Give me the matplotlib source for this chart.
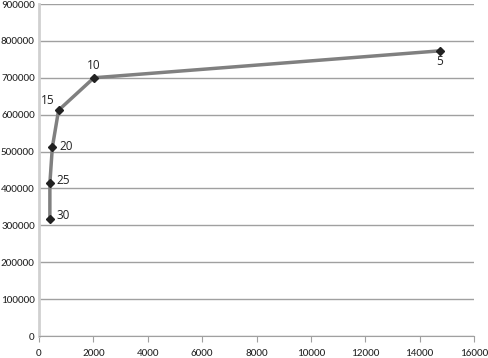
import matplotlib
matplotlib.use("Agg")
import matplotlib.pyplot as plt

plt.rcParams["font.family"] = ["Carlito", "DejaVu Sans"]

labels = ["5", "10", "15", "20", "25", "30"]
x_vals = [14740, 2020, 720, 490, 400, 400]
y_vals = [773000, 700000, 612000, 511000, 414000, 318000]

fig = plt.figure(figsize=(4.88, 3.58), dpi=100)
ax = fig.add_axes([39/488, 1-336/358, (474-39)/488, (336-4)/358])

ax.plot(x_vals, y_vals, color="#808080", lw=2.5, marker="D", ms=4.5,
        mfc="#222222", mec="#222222", zorder=3)

offsets = {"5": (0, -7.5, "center"), "10": (0, 8.5, "center"), "15": (-8, 7, "center"),
           "20": (5, 1, "left"), "25": (5, 2, "left"), "30": (5, 2, "left")}
for lab, x, y in zip(labels, x_vals, y_vals):
    dx, dy, ha = offsets[lab]
    ax.annotate(lab, (x, y), xytext=(dx, dy), textcoords="offset points",
                ha=ha, va="center", fontsize=8.5, color="#222222",
                family=["Open Sans", "DejaVu Sans"])

ax.set_xlim(0, 16000)
ax.set_ylim(0, 900000)
ax.set_xticks(range(0, 16001, 2000))
ax.set_yticks(range(0, 900001, 100000))
ax.yaxis.grid(True, color="#a0a0a0", lw=1)
ax.set_axisbelow(True)
for s in ["top", "right"]:
    ax.spines[s].set_visible(False)
ax.spines["left"].set_color("#d0d0d0")
ax.spines["left"].set_linewidth(2)
ax.spines["bottom"].set_color("#a0a0a0")
ax.tick_params(axis="y", length=0, labelsize=8, pad=3, colors="#222222")
ax.tick_params(axis="x", length=4, color="#a0a0a0", labelsize=8, pad=5, labelcolor="#222222")

fig.savefig("out.png", dpi=100)
